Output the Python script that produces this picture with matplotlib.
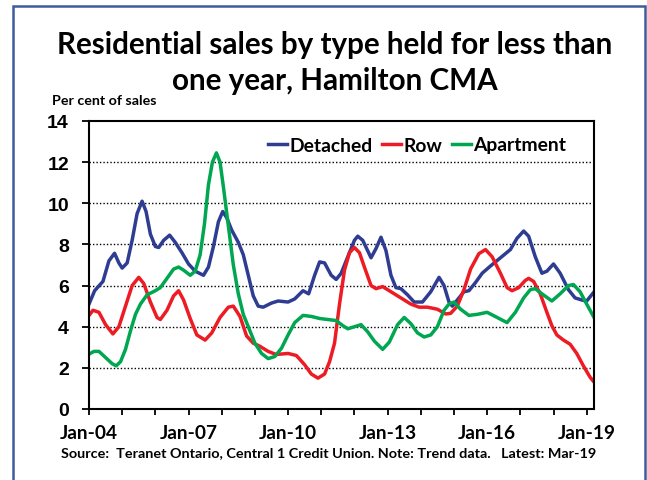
import matplotlib
matplotlib.use("Agg")
import matplotlib.pyplot as plt
from matplotlib.patches import Rectangle

# trend data (decimal years, per cent of sales)
detached_t = [2004.0, 2004.17, 2004.42, 2004.6, 2004.77, 2004.9, 2005.0, 2005.15, 2005.3, 2005.45,
              2005.6, 2005.72, 2005.85, 2006.0, 2006.1, 2006.25, 2006.43, 2006.6, 2006.8, 2007.0,
              2007.2, 2007.45, 2007.6, 2007.75, 2007.9, 2008.03, 2008.15, 2008.3, 2008.5, 2008.65,
              2008.8, 2008.95, 2009.1, 2009.25, 2009.5, 2009.7, 2010.0, 2010.2, 2010.45, 2010.62,
              2010.8, 2010.95, 2011.1, 2011.3, 2011.45, 2011.6, 2011.8, 2012.0, 2012.1, 2012.25,
              2012.5, 2012.65, 2012.8, 2012.95, 2013.1, 2013.25, 2013.4, 2013.6, 2013.8, 2014.05,
              2014.3, 2014.55, 2014.7, 2014.85, 2014.95, 2015.1, 2015.3, 2015.45, 2015.65, 2015.85,
              2016.1, 2016.4, 2016.7, 2016.9, 2017.1, 2017.25, 2017.45, 2017.65, 2017.8, 2018.0,
              2018.2, 2018.45, 2018.65, 2018.85, 2019.0, 2019.25]
detached = [5.1, 5.75, 6.2, 7.2, 7.57, 7.1, 6.85, 7.1, 8.2, 9.5,
            10.1, 9.6, 8.5, 7.9, 7.85, 8.2, 8.45, 8.1, 7.6, 7.05,
            6.7, 6.5, 6.9, 7.9, 9.1, 9.6, 9.3, 8.7, 8.1, 7.5,
            6.5, 5.5, 5.0, 4.95, 5.15, 5.25, 5.2, 5.35, 5.75, 5.6,
            6.5, 7.15, 7.1, 6.5, 6.3, 6.6, 7.4, 8.2, 8.4, 8.2,
            7.35, 7.8, 8.35, 7.7, 6.5, 5.9, 5.85, 5.55, 5.2, 5.2,
            5.7, 6.4, 6.0, 5.2, 5.0, 5.3, 5.7, 5.75, 6.15, 6.6,
            6.95, 7.35, 7.75, 8.3, 8.65, 8.4, 7.4, 6.6, 6.7, 7.05,
            6.6, 5.8, 5.4, 5.3, 5.25, 5.75]

row_t = [2004.0, 2004.12, 2004.3, 2004.5, 2004.72, 2004.9, 2005.1, 2005.3, 2005.5, 2005.65,
         2005.85, 2006.05, 2006.15, 2006.35, 2006.55, 2006.7, 2006.85, 2007.05, 2007.25, 2007.5,
         2007.7, 2007.95, 2008.2, 2008.35, 2008.55, 2008.75, 2008.95, 2009.15, 2009.4, 2009.64,
         2010.0, 2010.25, 2010.5, 2010.7, 2010.9, 2011.1, 2011.25, 2011.4, 2011.55, 2011.7,
         2011.85, 2012.0, 2012.15, 2012.3, 2012.5, 2012.65, 2012.85, 2013.1, 2013.4, 2013.7,
         2013.95, 2014.2, 2014.5, 2014.75, 2014.9, 2015.1, 2015.3, 2015.5, 2015.75, 2015.95,
         2016.15, 2016.4, 2016.6, 2016.75, 2016.95, 2017.15, 2017.25, 2017.4, 2017.6, 2017.8,
         2017.95, 2018.1, 2018.3, 2018.5, 2018.7, 2018.9, 2019.1, 2019.25]
row = [4.55, 4.8, 4.7, 4.1, 3.65, 4.0, 5.0, 6.0, 6.4, 6.1,
       5.2, 4.45, 4.35, 4.8, 5.5, 5.75, 5.3, 4.4, 3.6, 3.35,
       3.7, 4.45, 4.95, 5.0, 4.5, 3.55, 3.2, 3.05, 2.8, 2.65,
       2.7, 2.6, 2.15, 1.7, 1.5, 1.7, 2.3, 3.2, 5.1, 6.75,
       7.6, 7.85, 7.6, 6.9, 6.0, 5.85, 5.95, 5.7, 5.4, 5.1,
       4.95, 4.95, 4.85, 4.62, 4.65, 5.0, 5.8, 6.8, 7.55, 7.75,
       7.4, 6.6, 5.9, 5.75, 5.9, 6.25, 6.35, 6.2, 5.6, 4.7,
       4.05, 3.6, 3.35, 3.15, 2.7, 2.1, 1.55, 1.25]

apt_t = [2004.0, 2004.15, 2004.3, 2004.5, 2004.7, 2004.82, 2004.95, 2005.1, 2005.25, 2005.4,
         2005.55, 2005.75, 2006.0, 2006.15, 2006.35, 2006.55, 2006.7, 2006.85, 2007.05, 2007.2,
         2007.35, 2007.48, 2007.6, 2007.72, 2007.84, 2007.95, 2008.05, 2008.2, 2008.35, 2008.5,
         2008.65, 2008.8, 2009.0, 2009.2, 2009.4, 2009.6, 2009.8, 2010.0, 2010.2, 2010.45,
         2010.7, 2010.95, 2011.2, 2011.45, 2011.65, 2011.8, 2012.0, 2012.2, 2012.4, 2012.6,
         2012.85, 2013.05, 2013.3, 2013.5, 2013.7, 2013.9, 2014.1, 2014.3, 2014.5, 2014.7,
         2014.85, 2015.0, 2015.2, 2015.45, 2015.7, 2016.0, 2016.3, 2016.6, 2016.85, 2017.1,
         2017.3, 2017.45, 2017.65, 2017.95, 2018.2, 2018.45, 2018.6, 2018.8, 2019.0, 2019.22]
apt = [2.67, 2.8, 2.8, 2.5, 2.2, 2.1, 2.3, 2.9, 3.8, 4.6,
       5.1, 5.55, 5.75, 5.9, 6.35, 6.8, 6.9, 6.75, 6.5, 6.7,
       7.5, 9.0, 10.9, 12.0, 12.45, 12.0, 10.8, 8.9, 7.0, 5.6,
       4.6, 4.0, 3.2, 2.7, 2.45, 2.55, 2.95, 3.6, 4.2, 4.55,
       4.5, 4.4, 4.35, 4.3, 4.05, 3.9, 4.0, 4.1, 3.75, 3.3,
       2.9, 3.25, 4.1, 4.45, 4.15, 3.7, 3.5, 3.6, 4.0, 4.8,
       5.1, 5.2, 4.85, 4.55, 4.6, 4.7, 4.45, 4.2, 4.7, 5.4,
       5.8, 5.85, 5.6, 5.25, 5.6, 6.0, 6.05, 5.7, 5.1, 4.45]

year_ticks = list(range(2004, 2020))
label_years = [2004, 2007, 2010, 2013, 2016, 2019]
y_ticks = [0, 2, 4, 6, 8, 10, 12, 14]

W, H = 647, 481
fig = plt.figure(figsize=(W / 100, H / 100), dpi=100)
ax = fig.add_axes([89 / W, 1 - 410 / H, (594 - 89) / W, (410 - 122) / H])

# blue frame around the whole graphic
fig.patches.append(Rectangle((13 / W, -0.1), (645 - 13) / W, 1.1 - 7 / H, transform=fig.transFigure,
                             fill=False, edgecolor="#3d5c9c", linewidth=1.8))

lw = 2.5
ax.plot(detached_t, detached, color="#2e3d92", lw=lw, solid_joinstyle="round", label="Detached")
ax.plot(row_t, row, color="#ed1c24", lw=lw, solid_joinstyle="round", label="Row")
ax.plot(apt_t, apt, color="#00a650", lw=lw, solid_joinstyle="round", label="Apartment")

ax.set_xlim(2004, 2019.22)
ax.set_ylim(0, 14)
ax.set_yticks(y_ticks)
ax.set_yticklabels([str(v) for v in y_ticks], fontsize=14, fontweight="bold", family="Liberation Sans")
ax.set_xticks(year_ticks)
ax.set_xticklabels(["Jan-%02d" % (y % 100) if y in label_years else "" for y in year_ticks],
                   fontsize=13.8, fontweight="bold", family="Lato")
ax.tick_params(axis="x", direction="out", length=4.5, width=1.3, pad=6)
ax.tick_params(axis="y", direction="out", length=5.4, width=1.3, pad=9)
for s in ax.spines.values():
    s.set_linewidth(1.5)
for v in [2, 4, 6, 8, 10, 12]:
    ax.axhline(v, color="black", lw=1, ls=(0, (1, 1.5)), zorder=0)

leg = ax.legend(loc="center left", ncol=3, frameon=False, handlelength=1.0, handletextpad=0.1,
                columnspacing=0.5, borderpad=0, borderaxespad=0,
                bbox_to_anchor=(268 / W, 1 - 146 / H), bbox_transform=fig.transFigure,
                prop={"family": "Lato", "weight": "bold", "size": 13.9})

fig.text(335 / W, 1 - 54 / H, "Residential sales by type held for less than", ha="center", va="baseline",
         fontsize=21.3, fontweight="bold", family="Lato")
fig.text(335 / W, 1 - 90 / H, "one year, Hamilton CMA", ha="center", va="baseline",
         fontsize=21.3, fontweight="bold", family="Lato")
fig.text(52 / W, 1 - 101 / H, "Per cent of sales", ha="left", va="center",
         fontsize=10.3, fontweight="bold", family="Lato")
fig.text(60.7 / W, 1 - 456.7 / H,
         "Source:  Teranet Ontario, Central 1 Credit Union. Note: Trend data.   Latest: Mar-19",
         ha="left", va="baseline", fontsize=10.4, fontweight="bold", family="Lato")

fig.savefig("out.png", dpi=100)
